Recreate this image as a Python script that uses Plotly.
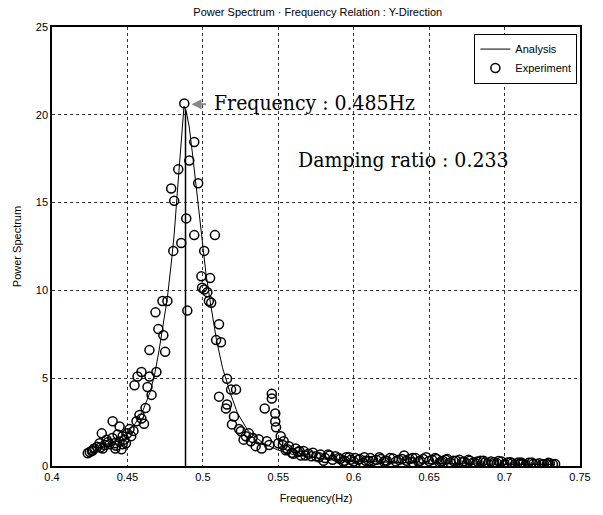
import plotly.graph_objects as go

# ---- Analysis curve ----
ana_f = [0.4237, 0.430, 0.440, 0.450, 0.455, 0.460, 0.465, 0.468, 0.471, 0.474,
         0.4765, 0.479, 0.481, 0.483, 0.485, 0.4865, 0.4875, 0.489, 0.491, 0.4935,
         0.496, 0.499, 0.502, 0.505, 0.509, 0.513, 0.518, 0.523, 0.530, 0.540,
         0.550, 0.560, 0.580, 0.600, 0.650, 0.700, 0.733]
ana_v = [0.7, 0.9, 1.3, 1.9, 2.4, 3.1, 4.2, 5.2, 6.6, 8.2,
         9.6, 11.5, 13.2, 15.5, 18.0, 19.8, 20.5, 20.2, 19.3, 17.5,
         15.6, 13.2, 11.0, 9.3, 7.2, 5.6, 4.2, 3.0, 2.0, 1.3,
         0.9, 0.65, 0.4, 0.28, 0.15, 0.10, 0.08]

# ---- Experiment points ----
exp_f = [0.4877, 0.4943, 0.4910, 0.4969, 0.4837, 0.4790, 0.4810, 0.4890, 0.4943, 0.5080,
         0.4857, 0.4804, 0.5009, 0.4990, 0.5048, 0.4995, 0.5030, 0.5040, 0.4765,
         0.4732, 0.4686, 0.4705, 0.4738, 0.4646, 0.4750, 0.4897, 0.4593, 0.4567, 0.4646,
         0.4692, 0.4547, 0.4633, 0.4660, 0.4402, 0.4448, 0.4560, 0.4593, 0.4468, 0.4500,
         0.4514, 0.4435, 0.4330, 0.4316, 0.4382, 0.4336, 0.4280, 0.4237, 0.4264, 0.4468,
         0.4415, 0.4362, 0.4448, 0.4461, 0.4250, 0.4300, 0.4350, 0.4400, 0.4420, 0.4480,
         0.4540, 0.4580, 0.4620, 0.4270, 0.4320, 0.4370, 0.4425, 0.4490, 0.4525, 0.4610,
         0.5009, 0.5055, 0.5107, 0.5120, 0.5088, 0.5160, 0.5220, 0.5187, 0.5107, 0.5160,
         0.5153, 0.5206, 0.5193, 0.5252, 0.5285, 0.5318, 0.5350, 0.5370, 0.5424, 0.5390,
         0.5457, 0.5457, 0.5410, 0.5480, 0.5480, 0.5485, 0.5516, 0.5536, 0.5570, 0.5615,
         0.5668, 0.5720, 0.5305, 0.5240, 0.5270, 0.5330, 0.5440, 0.5500, 0.5550, 0.5590,
         0.5630, 0.5650, 0.5700, 0.5750, 0.5780, 0.5810, 0.5840, 0.5879, 0.5910, 0.5950,
         0.5980, 0.6010, 0.6040, 0.6080, 0.6110, 0.6150, 0.6180, 0.6220, 0.6260, 0.6300,
         0.6334, 0.6370, 0.6410, 0.6440, 0.6480, 0.6520, 0.6550, 0.6590, 0.6620, 0.6660,
         0.6700, 0.6730, 0.6770, 0.6800, 0.6840, 0.6870, 0.6910, 0.6950, 0.6980, 0.7020,
         0.7050, 0.7090, 0.7120, 0.7160, 0.7190, 0.7230, 0.7260, 0.7300, 0.7335,
         0.5800, 0.5930, 0.6060, 0.6200, 0.6390, 0.6570, 0.6750, 0.6930, 0.7100, 0.7280,
         0.5530, 0.5560, 0.5600, 0.5640, 0.5680, 0.5730, 0.5770, 0.5830, 0.5860, 0.5900,
         0.5940, 0.5970, 0.6000, 0.6030, 0.6070, 0.6100, 0.6130, 0.6170, 0.6210, 0.6240,
         0.6280, 0.6320, 0.6350, 0.6390, 0.6430, 0.6460, 0.6500, 0.6540, 0.6580, 0.6610,
         0.6640, 0.6680, 0.6720, 0.6760, 0.6790, 0.6820, 0.6860, 0.6890, 0.6930, 0.6960,
         0.7000, 0.7040, 0.7070, 0.7110, 0.7140, 0.7180, 0.7210, 0.7250, 0.7290, 0.7320]
exp_v = [20.65, 18.45, 17.4, 16.1, 16.9, 15.8, 15.1, 14.1, 13.15, 13.15,
         12.7, 12.25, 12.25, 10.8, 10.7, 10.15, 9.9, 9.4, 9.4,
         9.4, 8.75, 7.8, 7.45, 6.6, 6.5, 8.85, 5.35, 5.1, 5.1,
         5.35, 4.6, 4.5, 4.05, 2.55, 2.25, 2.55, 2.7, 1.7, 1.86,
         2.1, 1.8, 1.86, 1.3, 1.24, 1.0, 1.0, 0.73, 0.85, 1.24,
         1.3, 1.5, 1.4, 0.95, 0.8, 1.1, 1.2, 1.6, 1.0, 1.5,
         2.0, 2.9, 3.3, 0.9, 1.05, 1.35, 1.15, 1.3, 1.7, 2.4,
         10.05, 9.3, 8.07, 7.05, 7.17, 4.97, 4.35, 4.35, 3.95, 3.5,
         3.27, 2.82, 2.37, 1.98, 1.69, 1.41, 1.13, 1.52, 1.41, 1.0,
         4.12, 3.84, 3.27, 2.99, 2.54, 2.2, 1.69, 1.41, 1.13, 1.0,
         0.85, 0.56, 1.86, 2.1, 1.5, 1.6, 1.2, 1.3, 0.9, 0.75,
         0.8, 0.6, 0.7, 0.55, 0.65, 0.45, 0.6, 0.56, 0.4, 0.5,
         0.35, 0.45, 0.4, 0.3, 0.45, 0.35, 0.4, 0.3, 0.42, 0.35,
         0.6, 0.4, 0.45, 0.3, 0.5, 0.35, 0.4, 0.3, 0.4, 0.3,
         0.35, 0.25, 0.3, 0.2, 0.3, 0.2, 0.25, 0.15, 0.25, 0.2,
         0.15, 0.2, 0.12, 0.18, 0.12, 0.15, 0.1, 0.15, 0.12,
         0.3, 0.25, 0.2, 0.25, 0.22, 0.2, 0.15, 0.12, 0.1, 0.1,
         1.2, 0.95, 0.7, 0.85, 0.6, 0.75, 0.5, 0.65, 0.35, 0.45,
         0.3, 0.5, 0.25, 0.35, 0.5, 0.28, 0.3, 0.5, 0.3, 0.45,
         0.25, 0.4, 0.3, 0.45, 0.25, 0.4, 0.28, 0.45, 0.25, 0.35,
         0.2, 0.3, 0.22, 0.35, 0.18, 0.25, 0.3, 0.15, 0.22, 0.28,
         0.12, 0.22, 0.1, 0.2, 0.08, 0.2, 0.12, 0.1, 0.18, 0.1]

peak_f = [0.4885, 0.4885]
peak_v = [0.0, 20.3]

x_ticks = [0.4, 0.45, 0.5, 0.55, 0.6, 0.65, 0.7, 0.75]
x_labels = ["0.4", "0.45", "0.5", "0.55", "0.6", "0.65", "0.7", "0.75"]
y_ticks = [0, 5, 10, 15, 20, 25]
y_labels = ["0", "5", "10", "15", "20", "25"]

fig = go.Figure()
fig.add_trace(go.Scatter(x=ana_f, y=ana_v, mode="lines", name="Analysis",
                         line=dict(color="black", width=1)))
fig.add_trace(go.Scatter(x=exp_f, y=exp_v, mode="markers", name="Experiment",
                         marker=dict(symbol="circle-open", size=9, color="black",
                                     line=dict(width=1.5, color="black"))))
fig.add_trace(go.Scatter(x=peak_f, y=peak_v, mode="lines", showlegend=False,
                         line=dict(color="black", width=1.5)))

axis_common = dict(showline=True, linecolor="black", linewidth=1.5, mirror=True,
                   showgrid=True, gridcolor="#333333", griddash="dot", gridwidth=1,
                   zeroline=False, ticks="", tickfont=dict(family="Liberation Sans", size=11, color="black"))

fig.update_xaxes(range=[0.4, 0.75], tickvals=x_ticks, ticktext=x_labels,
                 title=dict(text="Frequency(Hz)", font=dict(family="Liberation Sans", size=11, color="black"), standoff=12),
                 **axis_common)
fig.update_yaxes(range=[0, 25], tickvals=y_ticks, ticktext=y_labels,
                 title=dict(text="Power Spectrum", font=dict(family="Liberation Sans", size=11, color="black"), standoff=12),
                 **axis_common)

fig.add_annotation(x=0.5061, y=20.7, xanchor="left", yanchor="middle", showarrow=False,
                   text="Frequency : 0.485Hz",
                   font=dict(family="DejaVu Serif Condensed, Liberation Serif", size=21, color="black"))
fig.add_annotation(x=0.5615, y=17.4, xanchor="left", yanchor="middle", showarrow=False,
                   text="Damping ratio : 0.233",
                   font=dict(family="DejaVu Serif Condensed, Liberation Serif", size=21, color="black"))
fig.add_annotation(x=0.4925, y=20.6, ax=16, ay=0, text="", showarrow=True,
                   arrowhead=2, arrowsize=1, arrowwidth=2, arrowcolor="#888888")

fig.update_layout(
    width=603, height=515,
    margin=dict(l=52, r=20, t=27, b=45),
    paper_bgcolor="white", plot_bgcolor="white",
    title=dict(text="Power Spectrum · Frequency Relation : Y-Direction", x=0.527, xanchor="center",
               y=0.977, yanchor="middle", font=dict(family="Liberation Sans", size=11, color="black")),
    legend=dict(x=0.995, y=0.985, xanchor="right", yanchor="top", bgcolor="white",
                bordercolor="black", borderwidth=1, font=dict(family="Liberation Sans", size=11, color="black"),
                tracegroupgap=0, itemwidth=30),
    showlegend=True,
)

fig.write_html("out.html")
